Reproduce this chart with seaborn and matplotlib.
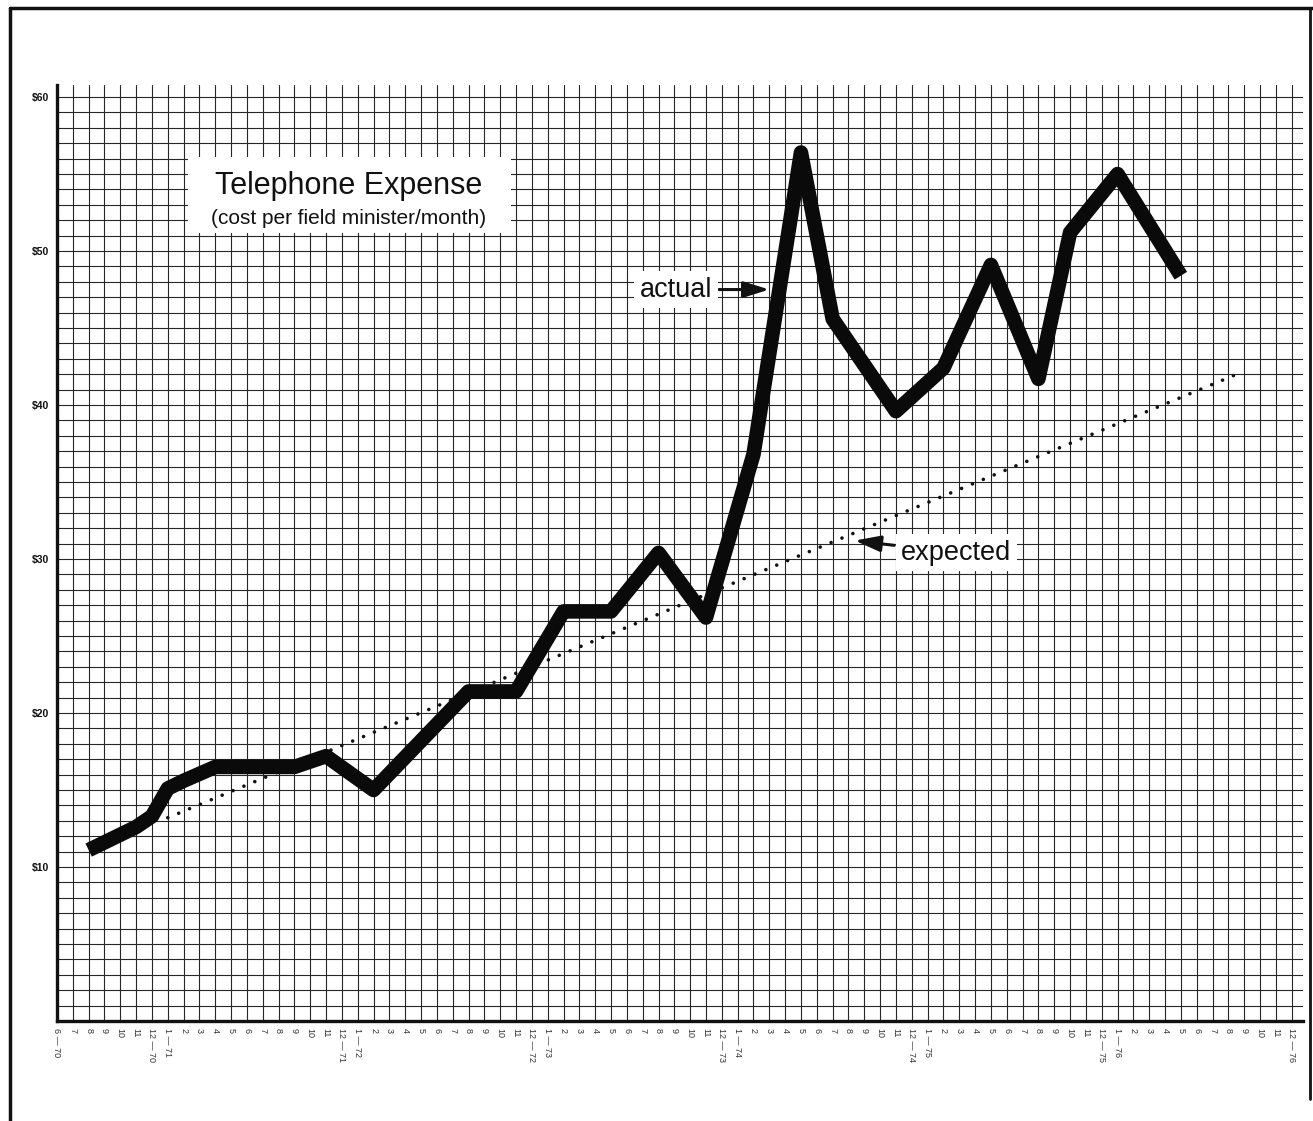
import numpy as np
import pandas as pd
import matplotlib
matplotlib.use("Agg")
import matplotlib.pyplot as plt
from matplotlib.patches import Rectangle
from matplotlib.lines import Line2D
from matplotlib.ticker import FixedLocator, FuncFormatter
import seaborn as sns

# values (month-year -> dollars per field minister)
actual_months = ['8-70', '11-70', '12-70', '1-71', '2-71', '4-71', '9-71', '11-71',
                 '2-72', '8-72', '11-72', '2-73', '5-73', '8-73', '11-73', '2-74',
                 '5-74', '7-74', '11-74', '2-75', '5-75', '8-75', '10-75', '1-76', '5-76']
actual_values = [11.1, 12.6, 13.3, 15.1, 15.6, 16.5, 16.5, 17.2,
                 15.0, 21.4, 21.4, 26.6, 26.6, 30.4, 26.2, 36.8,
                 56.4, 45.6, 39.6, 42.4, 49.1, 41.7, 51.2, 55.0, 48.4]
expected_months = ['1-71', '9-76']
expected_values = [13.2, 42.2]

y_labels = {10: '$10', 20: '$20', 30: '$30', 40: '$40', 50: '$50', 60: '$60'}

# month axis runs 6-70 .. 12-76
first_month, first_year = 6, 70
n_months = 79


def month_index(label):
    m, y = label.split('-')
    return (int(y) - first_year) * 12 + int(m) - first_month


def month_label(i):
    m = (first_month - 1 + i) % 12 + 1
    y = first_year + (first_month - 1 + i) // 12
    if i == 0 or m in (1, 12):
        return f"{m} \u2014 {y}"
    return str(m)


actual = pd.DataFrame({'month': [month_index(s) for s in actual_months], 'cost': actual_values})
expected = pd.DataFrame({'month': [month_index(s) for s in expected_months], 'cost': expected_values})

sns.set_style("white")
plt.rcParams['font.family'] = ['Liberation Sans', 'DejaVu Sans']

fig = plt.figure(figsize=(13.13, 11.21), dpi=100)
ax = fig.add_axes([0.0434, 0.0892, 0.9488, 0.8352])

grid_color = '#262626'
ax.set_xlim(0, 78.7)
ax.set_ylim(0, 60.8)
ax.xaxis.set_major_locator(FixedLocator(range(n_months)))
ax.yaxis.set_major_locator(FixedLocator(range(0, 61)))
ax.xaxis.set_major_formatter(FuncFormatter(lambda v, p: month_label(int(round(v)))))
ax.yaxis.set_major_formatter(FuncFormatter(lambda v, p: y_labels.get(int(round(v)), '')))
ax.grid(True, color=grid_color, linewidth=0.8)
ax.set_axisbelow(True)
ax.tick_params(axis='x', length=0, pad=5, labelsize=6.5, labelrotation=270, colors='#333333')
ax.tick_params(axis='y', length=0, pad=6, labelsize=7.5, colors='#111111')
for t in ax.get_yticklabels():
    t.set_fontweight('bold')

for side in ['top', 'right']:
    ax.spines[side].set_visible(False)
ax.spines['left'].set_linewidth(2.4)
ax.spines['bottom'].set_linewidth(2.4)
ax.spines['left'].set_color('#111111')
ax.spines['bottom'].set_color('#111111')

# expected trend (dotted)
sns.lineplot(data=expected, x='month', y='cost', ax=ax, color='#111111',
             linewidth=2.6, linestyle=(0, (0.01, 3.25)), dash_capstyle='round', zorder=3)
# actual cost (heavy line)
sns.lineplot(data=actual, x='month', y='cost', ax=ax, color='#0a0a0a',
             linewidth=10.5, solid_joinstyle='round', solid_capstyle='butt', zorder=4)
ax.set_xlabel('')
ax.set_ylabel('')

# title box
ax.add_patch(Rectangle((8.25, 51.2), 20.45, 4.9, facecolor='white', edgecolor='none', zorder=2))
ax.text(18.4, 54.2, 'Telephone Expense', ha='center', va='center', fontsize=22, color='#111111', zorder=5)
ax.text(18.4, 52.1, '(cost per field minister/month)', ha='center', va='center', fontsize=15, color='#111111', zorder=5)

box = dict(boxstyle='square,pad=0.2', facecolor='white', edgecolor='none')
arrow = dict(arrowstyle='-|>,head_length=0.8,head_width=0.25', color='#111111',
             lw=2.2, shrinkA=1, shrinkB=0)
ax.annotate('actual', xy=(45.0, 47.5), xytext=(39.1, 47.5), ha='center', va='center',
            fontsize=19.5, color='#111111', bbox=box, zorder=6, arrowprops=arrow)
ax.annotate('expected', xy=(50.4, 31.2), xytext=(56.8, 30.4), ha='center', va='center',
            fontsize=19.5, color='#111111', bbox=box, zorder=6, arrowprops=arrow)

# page border of the scanned sheet
fig.add_artist(Line2D([10 / 1313, 10 / 1313], [0, 1 - 8 / 1121], color='#111111', lw=2.5))
fig.add_artist(Line2D([10 / 1313, 1], [1 - 8 / 1121, 1 - 8 / 1121], color='#111111', lw=2.5))
fig.add_artist(Line2D([1310 / 1313, 1310 / 1313], [0.02, 1 - 8 / 1121], color='#111111', lw=2.0))

fig.savefig('out.png', dpi=100, facecolor='white')
